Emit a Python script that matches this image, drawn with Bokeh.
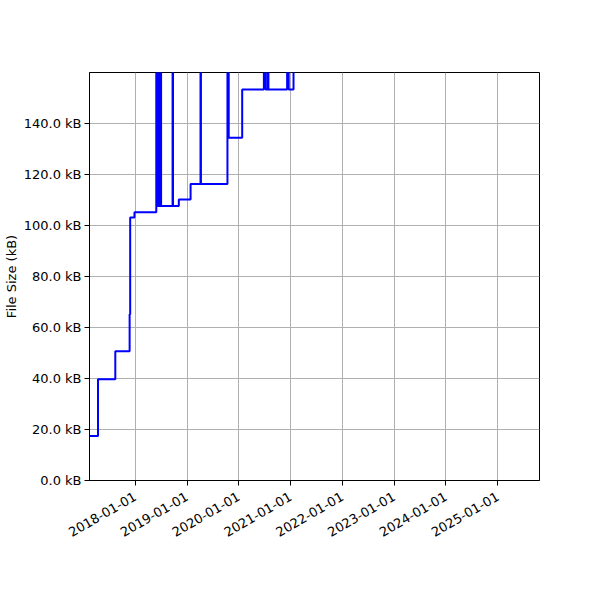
import math
import pandas as pd
from bokeh.plotting import figure
from bokeh.models import FixedTicker, PrintfTickFormatter, DatetimeTickFormatter, Range1d
from bokeh.embed import file_html
from bokeh.resources import INLINE

# ---- data ----
dates = [
    "2017-02-12", "2017-04-13", "2017-08-13", "2017-11-22", "2017-11-26", "2017-12-26",
    "2018-05-29", "2018-05-31", "2018-06-02", "2018-06-04", "2018-06-06", "2018-06-08",
    "2018-06-10", "2018-06-12", "2018-06-14", "2018-06-16", "2018-06-18", "2018-06-20",
    "2018-06-22", "2018-06-24", "2018-06-26", "2018-06-28", "2018-06-30", "2018-07-02",
    "2018-07-04",
    "2018-09-21", "2018-09-24",
    "2018-11-04", "2019-01-26",
    "2019-04-06", "2019-04-09",
    "2019-10-13", "2019-10-22",
    "2020-01-25",
    "2020-06-26", "2020-07-08", "2020-07-23", "2020-07-28",
    "2020-12-07", "2020-12-18",
    "2021-01-21", "2025-10-22",
]
sizes_kb = [
    17.5, 39.7, 50.7, 65.2, 103.1, 105.2,
    250.0, 107.6, 250.0, 107.6, 250.0, 107.6,
    250.0, 107.6, 250.0, 107.6, 250.0, 107.6,
    250.0, 107.6, 250.0, 107.6, 250.0, 107.6,
    107.6,
    250.0, 107.6,
    110.2, 116.3,
    250.0, 116.3,
    250.0, 134.4,
    153.3,
    250.0, 153.3, 250.0, 153.3,
    250.0, 153.3,
    190.0, 190.0,
]
x_start, x_end = "2017-02-12", "2025-10-22"
y_start, y_end = 0, 160
y_ticks = [0, 20, 40, 60, 80, 100, 120, 140]
x_tick_years = [2018, 2019, 2020, 2021, 2022, 2023, 2024, 2025]

FONT = "DejaVu Sans"

x = pd.to_datetime(dates)

p = figure(
    width=584, height=584,
    x_axis_type="datetime",
    output_backend="svg", toolbar_location=None,
    min_border_left=82, min_border_right=52, min_border_top=72, min_border_bottom=104,
    frame_width=450, frame_height=408,
)
p.x_range = Range1d(pd.Timestamp(x_start), pd.Timestamp(x_end))
p.y_range = Range1d(y_start, y_end)

p.step(x, sizes_kb, mode="after", line_color="#0000ff", line_width=2.0)

# axes styling
tick_ms = [pd.Timestamp(f"{y}-01-01").value / 1e6 for y in x_tick_years]
p.xaxis.ticker = FixedTicker(ticks=tick_ms)
fmt = "%Y-%m-%d"
p.xaxis.formatter = DatetimeTickFormatter(
    years=fmt, months=fmt, days=fmt, hours=fmt, minutes=fmt, seconds=fmt,
    milliseconds=fmt, microseconds=fmt,
)
p.xaxis.major_label_orientation = math.pi / 6
p.yaxis.ticker = FixedTicker(ticks=y_ticks)
p.yaxis.formatter = PrintfTickFormatter(format="%.1f kB")
p.yaxis.axis_label = "File Size (kB)"

for ax in (p.xaxis, p.yaxis):
    ax.major_label_text_font = FONT
    ax.major_label_text_font_size = "13px"
    ax.major_label_text_color = "black"
    ax.axis_label_text_font = FONT
    ax.axis_label_text_font_size = "13px"
    ax.axis_label_text_font_style = "normal"
    ax.axis_label_text_color = "black"
    ax.axis_line_color = "black"
    ax.axis_line_width = 1
    ax.major_tick_line_color = "black"
    ax.major_tick_out = 5
    ax.major_tick_in = 0
    ax.minor_tick_line_color = None
    ax.major_label_standoff = 3

p.yaxis.axis_label_standoff = 2
p.xaxis.major_label_standoff = 10

p.xgrid.ticker = FixedTicker(ticks=tick_ms)
p.ygrid.ticker = FixedTicker(ticks=y_ticks)
p.grid.grid_line_color = "#b0b0b0"
p.grid.grid_line_width = 1
p.outline_line_color = "black"
p.outline_line_alpha = 1
p.outline_line_width = 1
p.background_fill_color = "white"
p.border_fill_color = "white"

open("out.html", "w").write(file_html(p, INLINE))
